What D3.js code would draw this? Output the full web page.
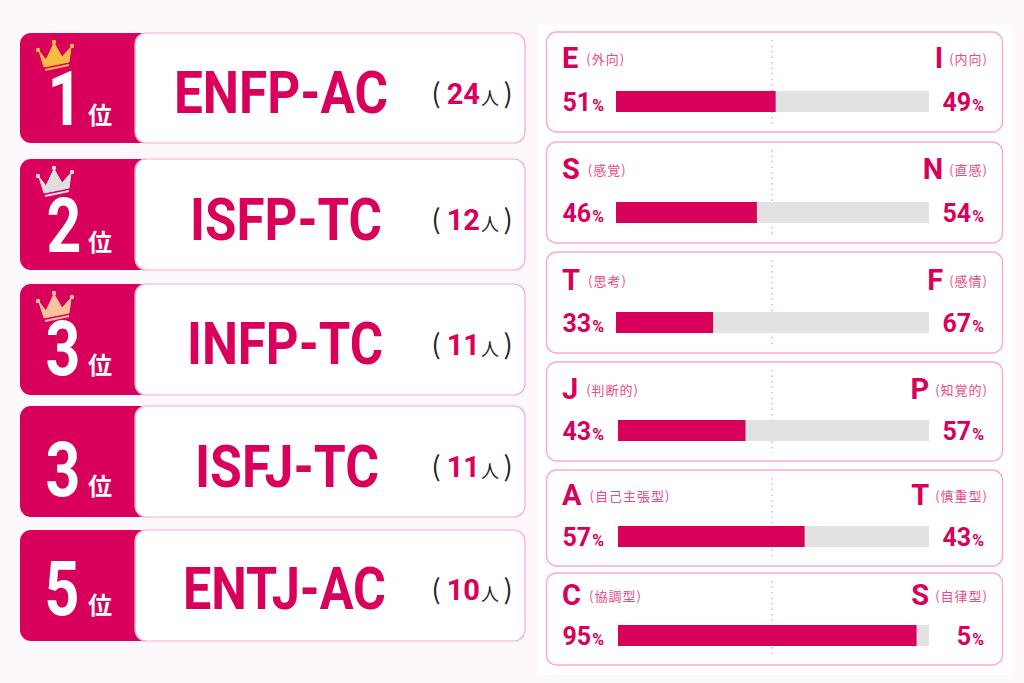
<!DOCTYPE html>
<html lang="ja">
<head>
<meta charset="utf-8">
<script src="https://cdn.jsdelivr.net/npm/d3@7"></script>
<style>
  body { margin: 0; background: #fdf8fb; }
  svg { display: block; }
  text { font-family: "Noto Sans CJK JP", "Noto Sans", sans-serif; }
</style>
</head>
<body>
<div id="chart"></div>
<script>
// ranking data
const ranks = ["1", "2", "3", "3", "5"];
const types = ["ENFP-AC", "ISFP-TC", "INFP-TC", "ISFJ-TC", "ENTJ-AC"];
const counts = [24, 12, 11, 11, 10];
const crownColors = ["#f6bd45", "#dfdfdf", "#f7c49c", null, null];

// axis data
const leftLetters = ["E", "S", "T", "J", "A", "C"];
const leftWords = ["外向", "感覚", "思考", "判断的", "自己主張型", "協調型"];
const rightLetters = ["I", "N", "F", "P", "T", "S"];
const rightWords = ["内向", "直感", "感情", "知覚的", "慎重型", "自律型"];
const leftPercents = [51, 46, 33, 43, 57, 95];
const rightPercents = [49, 54, 67, 57, 43, 5];
// the drawn bars don't quite follow the printed numbers, these are read off the bars
const barShares = [51, 45, 31, 41, 60, 96];

// layout
const width = 1024, height = 683;
const crimson = "#d9005b", pink = "#ffa6d4", soft = "#ea4a8a", track = "#e2e2e2", dark = "#222";

const cardTops = [33, 159, 284, 406, 530];
const cardHeights = [110, 111, 111, 111, 111];
const nameCenters = [281, 286, 285, 287, 284.5];
const nameWidths = [214, 192, 196, 184, 203];
const nameBase = [113, 240, 364, 487, 609];
const numeralCenters = [65, 64, 63, 63, 62];
const numeralBase = [125, 252, 375, 496, 615];
const countBase = [104, 230, 355, 477, 600];

const panelTops = [32, 142, 252, 362, 470, 573];
const panelBottoms = [132, 243, 353, 461, 566, 665];
const barTops = [91, 202, 312, 420, 526, 625];
const barStarts = [616, 616, 616, 618, 618, 618];
const letterBase = [68, 179, 290, 399, 505, 605];

const svg = d3.select("#chart").append("svg")
    .attr("width", width)
    .attr("height", height);

svg.append("rect")
    .attr("x", 538).attr("y", 25)
    .attr("width", 474).attr("height", 650)
    .attr("fill", "#fff");

// Left: ranking cards
const cards = svg.selectAll("g.card")
    .data(types.map((t, i) => i))
    .enter().append("g")
    .attr("class", "card");

cards.append("rect")
    .attr("x", 20).attr("width", 140)
    .attr("y", i => cardTops[i])
    .attr("height", i => cardHeights[i])
    .attr("rx", 11)
    .attr("fill", crimson);

cards.append("rect")
    .attr("x", 135).attr("width", 390)
    .attr("y", i => cardTops[i])
    .attr("height", i => cardHeights[i])
    .attr("rx", 11)
    .attr("fill", "#fff")
    .attr("stroke", pink)
    .attr("stroke-width", 1.2);

// numerals are squeezed, the original face is condensed
cards.append("text")
    .attr("transform", i => `translate(${numeralCenters[i]},${numeralBase[i]}) scale(0.8,1)`)
    .attr("text-anchor", "middle")
    .attr("fill", "#fff")
    .style("font-family", "Roboto")
    .style("font-weight", 700)
    .style("font-size", "76px")
    .text(i => ranks[i]);

cards.append("text")
    .attr("x", 100)
    .attr("y", i => numeralBase[i] - 1)
    .attr("text-anchor", "middle")
    .attr("fill", "#fff")
    .style("font-weight", 700)
    .style("font-size", "24px")
    .text("位");

cards.append("text")
    .attr("x", i => nameCenters[i])
    .attr("y", i => nameBase[i])
    .attr("text-anchor", "middle")
    .attr("fill", crimson)
    .attr("textLength", i => nameWidths[i])
    .attr("lengthAdjust", "spacingAndGlyphs")
    .style("font-family", "'Liberation Sans Narrow', Roboto, sans-serif")
    .style("font-weight", 700)
    .style("font-size", "60px")
    .text(i => types[i]);

// count label: ( 24人 )
cards.append("text")
    .attr("x", 436).attr("y", i => countBase[i] - 1)
    .attr("text-anchor", "middle")
    .attr("fill", dark)
    .style("font-size", "27px")
    .text("(");
cards.append("text")
    .attr("x", 480).attr("y", i => countBase[i])
    .attr("text-anchor", "end")
    .attr("fill", crimson)
    .style("font-family", "Roboto")
    .style("font-weight", 700)
    .style("font-size", "29px")
    .text(i => counts[i]);
cards.append("text")
    .attr("x", 490).attr("y", i => countBase[i] + 1)
    .attr("text-anchor", "middle")
    .attr("fill", dark)
    .style("font-size", "18px")
    .text("人");
cards.append("text")
    .attr("x", 508).attr("y", i => countBase[i] - 1)
    .attr("text-anchor", "middle")
    .attr("fill", dark)
    .style("font-size", "27px")
    .text(")");

// Crowns
const crownPath = "M3 11 L10 20 L18 3 L26 17 L35 7 L33 22 L8 27 Z";
const crowns = svg.selectAll("g.crown")
    .data(crownColors.map((c, i) => i).filter(i => crownColors[i]))
    .enter().append("g")
    .attr("class", "crown")
    .attr("transform", i => `translate(36,${cardTops[i] + 7})`);

crowns.append("path")
    .attr("d", crownPath)
    .attr("stroke-linejoin", "round")
    .attr("stroke-width", 1)
    .attr("fill", i => crownColors[i])
    .attr("stroke", i => crownColors[i]);
crowns.append("path")
    .attr("d", "M9 30 L33 25")
    .attr("stroke-width", 2)
    .attr("stroke", i => crownColors[i]);
crowns.selectAll("circle")
    .data(i => [[2, 10], [18, 2], [36, 6]].map(p => ({ p, i })))
    .enter().append("circle")
    .attr("cx", d => d.p[0])
    .attr("cy", d => d.p[1])
    .attr("r", 2.2)
    .attr("fill", d => crownColors[d.i]);

// Right: axis panels
const panels = svg.selectAll("g.panel")
    .data(leftLetters.map((t, i) => i))
    .enter().append("g")
    .attr("class", "panel");

panels.append("rect")
    .attr("x", 546.5)
    .attr("y", i => panelTops[i])
    .attr("width", 456)
    .attr("height", i => panelBottoms[i] - panelTops[i])
    .attr("rx", 10)
    .attr("fill", "#fff")
    .attr("stroke", pink)
    .attr("stroke-width", 1.4);

panels.append("line")
    .attr("x1", 772).attr("x2", 772)
    .attr("y1", i => panelTops[i] + 8)
    .attr("y2", i => panelBottoms[i] - 8)
    .attr("stroke", "#f58cbd")
    .attr("stroke-width", 1.2)
    .attr("stroke-dasharray", "1.5 4");

panels.each(function (i) {
    const g = d3.select(this);
    const x = d3.scaleLinear().domain([0, 100]).range([barStarts[i], 929]);

    g.append("rect")
        .attr("x", x(0)).attr("y", barTops[i])
        .attr("width", x(100) - x(0)).attr("height", 21)
        .attr("fill", track);
    g.append("rect")
        .attr("x", x(0)).attr("y", barTops[i])
        .attr("width", x(barShares[i]) - x(0)).attr("height", 21)
        .attr("fill", crimson);

    // heading letters and words
    const leftLetter = g.append("text")
        .attr("x", 562).attr("y", letterBase[i])
        .attr("fill", crimson)
        .style("font-family", "Roboto")
        .style("font-weight", 700)
        .style("font-size", "29px")
        .text(leftLetters[i]);
    g.append("text")
        .attr("x", 562 + leftLetter.node().getComputedTextLength() + 8)
        .attr("y", letterBase[i] - 4)
        .attr("fill", soft)
        .style("font-size", "13px")
        .style("letter-spacing", "1px")
        .text(`(${leftWords[i]})`);

    const rightWord = g.append("text")
        .attr("x", 988)
        .attr("y", letterBase[i] - 4)
        .attr("text-anchor", "end")
        .attr("fill", soft)
        .style("font-size", "13px")
        .style("letter-spacing", "1px")
        .text(`(${rightWords[i]})`);
    g.append("text")
        .attr("x", 988 - rightWord.node().getComputedTextLength() - 6)
        .attr("y", letterBase[i])
        .attr("text-anchor", "end")
        .attr("fill", crimson)
        .style("font-family", "Roboto")
        .style("font-weight", 700)
        .style("font-size", "29px")
        .text(rightLetters[i]);

    // percentages
    [[604, leftPercents[i]], [984, rightPercents[i]]].forEach(([end, value]) => {
        const label = g.append("text")
            .attr("x", end)
            .attr("y", barTops[i] + 20)
            .attr("text-anchor", "end")
            .attr("fill", crimson)
            .style("font-family", "Roboto")
            .style("font-weight", 700);
        label.append("tspan").style("font-size", "25px").text(value);
        label.append("tspan").style("font-size", "16px").attr("dx", 1).text("%");
    });
});
</script>
</body>
</html>
